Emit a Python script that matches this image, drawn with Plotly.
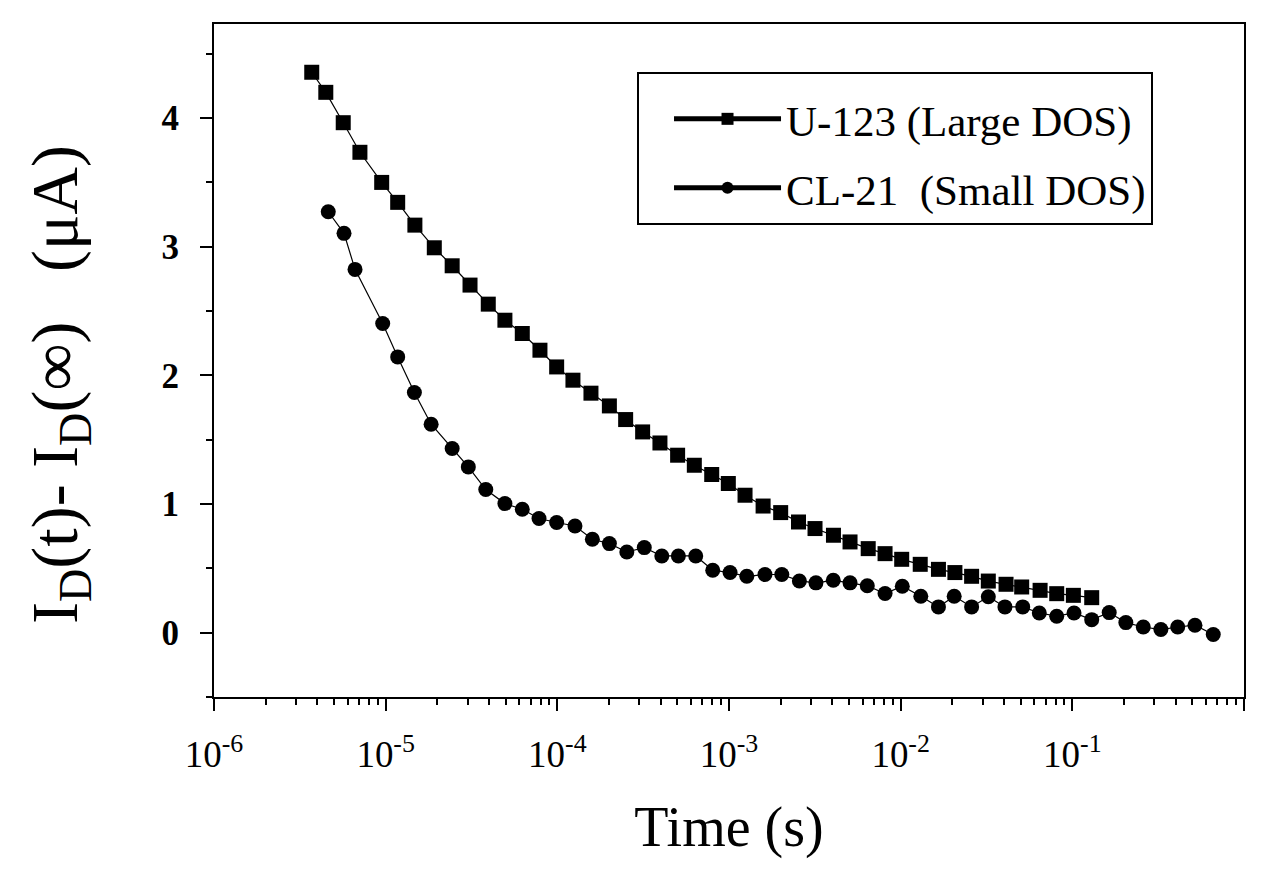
import plotly.graph_objects as go

# U-123 (Large DOS) — squares
u123_t = [3.71e-6, 4.48e-6, 5.66e-6, 7.08e-6, 9.48e-6, 1.175e-5, 1.48e-5, 1.92e-5, 2.44e-5,
          3.10e-5, 3.96e-5, 4.95e-5, 6.25e-5, 7.92e-5, 9.91e-5, 1.233e-4, 1.57e-4, 2.01e-4,
          2.50e-4, 3.14e-4, 3.96e-4, 5.02e-4, 6.28e-4, 7.93e-4, 9.91e-4, 1.24e-3, 1.58e-3,
          2.00e-3, 2.54e-3, 3.17e-3, 4.06e-3, 5.07e-3, 6.47e-3, 8.11e-3, 1.014e-2, 1.30e-2,
          1.66e-2, 2.07e-2, 2.59e-2, 3.24e-2, 4.11e-2, 5.07e-2, 6.49e-2, 8.11e-2, 0.1014, 0.1297]
u123_i = [4.355, 4.199, 3.963, 3.733, 3.499, 3.344, 3.167, 2.991, 2.851, 2.701, 2.553, 2.428,
          2.325, 2.195, 2.065, 1.962, 1.861, 1.762, 1.656, 1.560, 1.474, 1.379, 1.301, 1.229,
          1.159, 1.068, 0.984, 0.933, 0.860, 0.809, 0.757, 0.705, 0.653, 0.614, 0.570, 0.531,
          0.492, 0.467, 0.438, 0.401, 0.376, 0.355, 0.329, 0.303, 0.290, 0.272]

# CL-21 (Small DOS) — circles
cl21_t = [4.63e-6, 5.72e-6, 6.63e-6, 9.61e-6, 1.175e-5, 1.47e-5, 1.84e-5, 2.44e-5, 3.03e-5,
          3.83e-5, 4.95e-5, 6.25e-5, 7.82e-5, 9.91e-5, 1.267e-4, 1.60e-4, 2.01e-4, 2.54e-4,
          3.21e-4, 4.06e-4, 5.07e-4, 6.40e-4, 8.04e-4, 1.014e-3, 1.27e-3, 1.62e-3, 2.03e-3,
          2.57e-3, 3.21e-3, 4.05e-3, 5.07e-3, 6.39e-3, 8.11e-3, 1.022e-2, 1.31e-2, 1.66e-2,
          2.05e-2, 2.59e-2, 3.24e-2, 4.05e-2, 5.14e-2, 6.42e-2, 8.11e-2, 0.1023, 0.1297, 0.164,
          0.205, 0.259, 0.328, 0.411, 0.518, 0.662]
cl21_i = [3.271, 3.103, 2.823, 2.402, 2.143, 1.866, 1.620, 1.431, 1.288, 1.112, 1.003, 0.959,
          0.887, 0.856, 0.829, 0.726, 0.692, 0.627, 0.661, 0.596, 0.596, 0.596, 0.485, 0.467,
          0.438, 0.452, 0.452, 0.402, 0.387, 0.407, 0.387, 0.364, 0.304, 0.361, 0.283, 0.200,
          0.283, 0.200, 0.279, 0.200, 0.200, 0.153, 0.128, 0.153, 0.101, 0.156, 0.078, 0.044,
          0.024, 0.044, 0.058, -0.014]

x_tickvals = [1e-6, 1e-5, 1e-4, 1e-3, 1e-2, 1e-1, 1e0]
x_ticktext = ["10<sup>-6</sup>", "10<sup>-5</sup>", "10<sup>-4</sup>", "10<sup>-3</sup>",
              "10<sup>-2</sup>", "10<sup>-1</sup>", "10<sup>0</sup>"]
y_tickvals = [0, 1, 2, 3, 4]

SERIF = "Liberation Serif, Times New Roman, serif"
Y_TITLE = "I<sub>D</sub>(t)- I<sub>D</sub>(\u221e)\u00a0\u00a0\u00a0(\u03bcA)"

fig = go.Figure()
fig.add_trace(go.Scatter(
    x=u123_t, y=u123_i, mode="lines+markers", name="U-123 (Large DOS)",
    legendgroup="a",
    line=dict(color="black", width=1.2),
    marker=dict(symbol="square", size=15, color="black"),
))
fig.add_trace(go.Scatter(
    x=cl21_t, y=cl21_i, mode="lines+markers", name="CL-21  (Small DOS)",
    legendgroup="b",
    line=dict(color="black", width=1.2),
    marker=dict(symbol="circle", size=15, color="black"),
))

fig.update_layout(
    width=1260, height=859,
    paper_bgcolor="white", plot_bgcolor="white",
    margin=dict(l=206, r=24, t=16, b=170, autoexpand=False),
    font=dict(family=SERIF, color="black"),
    showlegend=True,
    legend=dict(
        x=0.4107, y=0.9287, xanchor="left", yanchor="top",
        bgcolor="white", bordercolor="black", borderwidth=2,
        font=dict(family=SERIF, size=43, color="black"),
        title=dict(text="\u00a0", font=dict(size=8)),
        itemwidth=107, indentation=30, tracegroupgap=10, itemsizing="constant",
    ),
    xaxis=dict(
        type="log", range=[-6, 0],
        tickmode="array", tickvals=x_tickvals, ticktext=x_ticktext,
        ticks="outside", ticklen=12, tickwidth=2, tickcolor="black",
        minor=dict(ticks="outside", ticklen=6, tickwidth=1.5, tickcolor="black", dtick="D1"),
        showline=True, linewidth=2, linecolor="black", mirror=True,
        showgrid=False, zeroline=False,
        tickfont=dict(family=SERIF, size=37, color="black"),
        ticklabelstandoff=12,
        title=dict(text="Time (s)", font=dict(family=SERIF, size=56, color="black"), standoff=32),
    ),
    yaxis=dict(
        range=[-0.5, 4.73],
        tickmode="array", tickvals=y_tickvals,
        ticks="outside", ticklen=12, tickwidth=2, tickcolor="black",
        minor=dict(ticks="outside", ticklen=6, tickwidth=1.5, tickcolor="black", dtick=0.5, tick0=0),
        showline=True, linewidth=2, linecolor="black", mirror=True,
        showgrid=False, zeroline=False,
        tickfont=dict(family=SERIF, size=35, color="black", weight="bold"),
        ticklabelstandoff=14,
    ),
    annotations=[dict(
        text=Y_TITLE, textangle=-90, showarrow=False,
        xref="paper", yref="paper", x=0, y=0.4636,
        xanchor="center", yanchor="middle", xshift=-154,
        font=dict(family=SERIF, size=66, color="black"),
    )],
)

fig.write_html("out.html")
